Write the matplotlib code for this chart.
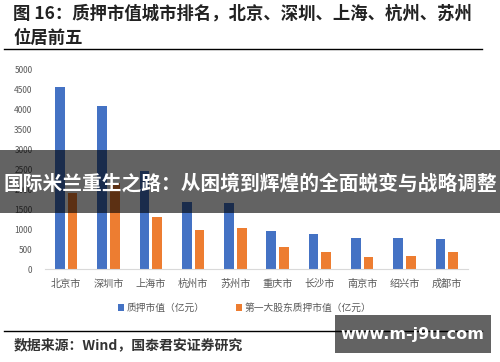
import matplotlib

matplotlib.use("Agg")
import matplotlib.pyplot as plt
import numpy as np
from matplotlib.patches import Rectangle

plt.rcParams["font.family"] = ["Noto Sans CJK SC", "DejaVu Sans"]

cities = ["北京市", "深圳市", "上海市", "杭州市", "苏州市",
          "重庆市", "长沙市", "南京市", "绍兴市", "成都市"]
pledge_value = [4550, 4075, 2470, 1680, 1660, 960, 885, 795, 785, 750]
top_holder_value = [1900, 2150, 1310, 975, 1025, 565, 445, 310, 325, 445]
series_names = ["质押市值（亿元）", "第一大股东质押市值（亿元）"]
y_ticks = list(range(0, 5001, 500))

title_lines = ["图 16：质押市值城市排名，北京、深圳、上海、杭州、苏州", "位居前五"]
source_text = "数据来源：Wind，国泰君安证券研究"
banner_text = "国际米兰重生之路：从困境到辉煌的全面蜕变与战略调整"
watermark_text = "www.m-j9u.com"

BLUE = "#4472C4"
ORANGE = "#ED7D31"
GRAY = "#595959"

W, H = 500, 362
fig = plt.figure(figsize=(W / 100, H / 100), dpi=100)


def fy(py):
    # pixel y from top -> figure fraction
    return 1 - py / H


def fx(px):
    return px / W


# title
fig.text(fx(13), fy(14), title_lines[0], fontsize=12.5, fontweight="bold",
         color="#222222", va="center", ha="left")
fig.text(fx(13), fy(38), title_lines[1], fontsize=12.5, fontweight="bold",
         color="#222222", va="center", ha="left")
fig.add_artist(plt.Line2D([fx(4), fx(482)], [fy(49), fy(49)],
                          color="black", lw=1.0, transform=fig.transFigure))

# chart
ax = fig.add_axes([fx(45), fy(269.3), fx(468) - fx(45), fy(69.3) - fy(269.3)])
x = np.arange(len(cities))
w = 0.23
ax.bar(x - 0.15, pledge_value, w, color=BLUE, label=series_names[0])
ax.bar(x + 0.15, top_holder_value, w, color=ORANGE, label=series_names[1])
ax.set_xlim(-0.5, len(cities) - 0.5)
ax.set_ylim(0, 5000)
ax.set_yticks(y_ticks)
ax.set_yticklabels([str(v) for v in y_ticks], fontsize=6, color=GRAY)
ax.set_xticks(x)
ax.set_xticklabels(cities, fontsize=7.3, color=GRAY)
ax.tick_params(length=0, pad=9, axis="y")
ax.tick_params(length=0, pad=7, axis="x")
for s in ["top", "right", "left"]:
    ax.spines[s].set_visible(False)
ax.spines["bottom"].set_color("#d9d9d9")
ax.spines["bottom"].set_linewidth(0.8)

leg = fig.legend(loc="center", bbox_to_anchor=(fx(245), fy(308)), ncol=2,
                 frameon=False, fontsize=7, handlelength=0.6, handleheight=0.6,
                 handletextpad=0.3, columnspacing=3.2)
for t in leg.get_texts():
    t.set_color(GRAY)

# footer
fig.add_artist(plt.Line2D([fx(4), fx(482)], [fy(331), fy(331)],
                          color="black", lw=1.0, transform=fig.transFigure))
fig.text(fx(14), fy(345), source_text, fontsize=10, color="#333333",
         va="center", ha="left", fontweight="bold")

# overlays
fig.add_artist(Rectangle((0, fy(213)), 1, fy(150) - fy(213), transform=fig.transFigure,
                         facecolor="black", alpha=0.61, edgecolor="none", zorder=10))
fig.text(0.5, fy(184), banner_text, fontsize=14.2, fontweight="bold", color="white",
         va="center", ha="center", zorder=11)
fig.add_artist(Rectangle((fx(335), fy(352.5)), fx(491) - fx(335), fy(315) - fy(352.5),
                         transform=fig.transFigure, facecolor="black", alpha=0.61,
                         edgecolor="none", zorder=10))
fig.text(fx(412), fy(334), watermark_text, fontsize=11.5, fontweight="bold", color="white",
         va="center", ha="center", zorder=11, family="DejaVu Sans")

fig.savefig("out.png", dpi=100)
